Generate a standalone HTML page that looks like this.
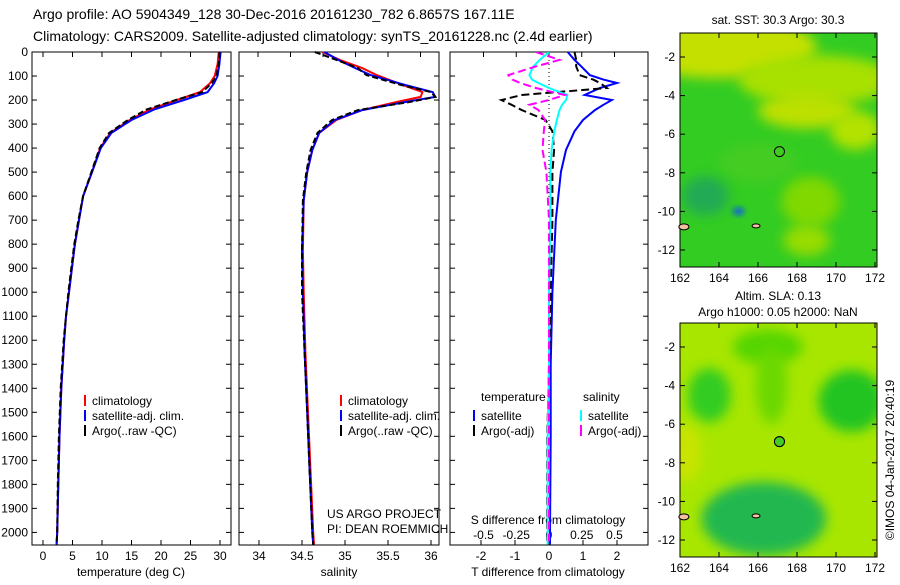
<!DOCTYPE html>
<html><head><meta charset="utf-8">
<style>
html,body{margin:0;padding:0;background:#fff;}
body{width:900px;height:580px;overflow:hidden;font-family:"Liberation Sans",sans-serif;}
svg text{font-family:"Liberation Sans",sans-serif;fill:#000;}
</style></head>
<body>
<svg id="fig" width="900" height="580" viewBox="0 0 900 580" xmlns="http://www.w3.org/2000/svg">
<defs>
<filter id="blur6" x="-50%" y="-50%" width="200%" height="200%"><feGaussianBlur stdDeviation="6"/></filter>
<filter id="blur3" x="-50%" y="-50%" width="200%" height="200%"><feGaussianBlur stdDeviation="3"/></filter>
<clipPath id="clipMap1"><rect x="680" y="33" width="197" height="234"/></clipPath>
<clipPath id="clipMap2"><rect x="680" y="323" width="197" height="234"/></clipPath>
<clipPath id="clipP3"><rect x="450" y="52" width="198" height="493"/></clipPath>
</defs>
<text x="33" y="19" font-size="14">Argo profile: AO 5904349_128 30-Dec-2016 20161230_782 6.8657S 167.11E</text>
<text x="33" y="41" font-size="14">Climatology: CARS2009. Satellite-adjusted climatology: synTS_20161228.nc (2.4d earlier)</text>
<g id="g-axes"></g>
<g id="g-maps"></g>
</svg>
<script>
// ---------- profile data ----------
const depthsT = [0,25,50,100,130,167,200,240,283,337,400,500,600,700,800,900,1000,1100,1200,1400,1600,1800,2000,2050];
const tempClim = [29.8,29.7,29.6,29.1,28.3,26.6,22.7,18.1,14.7,11.4,9.7,8.3,6.8,6.1,5.4,4.9,4.4,3.9,3.6,3.1,2.8,2.6,2.4,2.3];
const tempSat  = [30.1,30.0,29.9,29.6,29.0,27.9,23.9,18.8,15.0,11.6,9.8,8.3,6.8,6.1,5.4,4.9,4.4,3.9,3.6,3.1,2.8,2.6,2.4,2.3];
const tempArgo = [29.9,29.9,29.8,29.4,28.6,27.0,22.5,17.5,14.4,11.2,9.6,8.2,6.8,6.0,5.3,4.8,4.3,3.9,3.5,3.0,2.7,2.5,2.4,2.3];

const depthsS = [0,33,67,96,137,167,187,208,242,283,337,408,500,617,825,1000,1250,1500,1750,2000,2050];
const salClim = [34.74,34.94,35.2,35.37,35.67,35.9,35.88,35.6,35.2,34.9,34.7,34.62,34.56,34.52,34.51,34.52,34.54,34.57,34.60,34.63,34.64];
const salSat  = [34.76,34.92,35.12,35.3,35.7,36.02,36.05,35.7,35.2,34.88,34.7,34.62,34.56,34.52,34.50,34.51,34.53,34.56,34.59,34.62,34.63];
const salArgo = [34.65,34.9,35.15,35.25,35.65,36.0,36.05,35.75,35.15,34.85,34.68,34.6,34.55,34.51,34.50,34.50,34.53,34.56,34.59,34.62,34.63];

const depthsD = [0,33,60,96,115,129,150,179,200,220,242,283,330,408,500,700,1000,1300,1600,2000,2050];
const dTsat  = [0.55,0.75,0.95,1.2,1.6,2.0,1.5,1.05,1.85,1.6,1.35,1.0,0.75,0.5,0.35,0.2,0.1,0.05,0.05,0.03,0.03];
const dTargo = [0.75,0.8,0.8,0.9,1.3,1.5,1.7,-0.8,-1.4,-1.1,-0.8,-0.1,0.1,0.15,0.1,0.1,0.05,0.0,-0.05,-0.05,-0.05];
const dSsat  = [0.0,-0.07,-0.12,-0.15,-0.13,-0.08,0.0,0.14,0.13,0.1,0.08,0.06,0.04,0.02,0.01,0.01,0.0,0.0,-0.01,-0.01,-0.01];
const dSargo = [-0.1,0.08,-0.1,-0.31,-0.28,-0.22,-0.1,0.12,0.0,-0.15,-0.08,-0.03,-0.04,-0.05,-0.02,0.0,0.0,0.0,0.0,0.0,0.0];

const depthTicks = [0,100,200,300,400,500,600,700,800,900,1000,1100,1200,1300,1400,1500,1600,1700,1800,1900,2000];
const tempTicks = [0,5,10,15,20,25,30];
const salTicks = [34,34.5,35,35.5,36];
const salTickLabels = ["34","34.5","35","35.5","36"];
const dTTicks = [-2,-1,0,1,2];
const dSTicks = [-0.5,-0.25,0,0.25,0.5];
const dSTickLabels = ["-0.5","-0.25","0","0.25","0.5"];
const lonTicks = [162,164,166,168,170,172];
const latTicks = [-2,-4,-6,-8,-10,-12];

// ---------- helpers ----------
const NS = "http://www.w3.org/2000/svg";
const gA = document.getElementById('g-axes');
const gM = document.getElementById('g-maps');
function mk(tag, attrs, parent){
  const e = document.createElementNS(NS, tag);
  for (const k in attrs) e.setAttribute(k, attrs[k]);
  (parent||gA).appendChild(e);
  return e;
}
function txt(x,y,s,size,anchor,parent){
  const t = mk('text',{x:x,y:y,'font-size':size||12,'text-anchor':anchor||'start'},parent);
  t.textContent = s;
  return t;
}
const TOP=52, BOT=545;
const yD = d => TOP + d*0.2402;
const xT = v => 43 + v*5.9;
const xS = v => 259 + (v-34)*86;
const xDT = v => 549 + v*34;
const xDS = v => 549 + v*131;

function panel(x0,x1,name){
  const r = mk('rect',{x:x0,y:TOP,width:x1-x0,height:BOT-TOP,fill:'none',stroke:'#000','stroke-width':1});
  
  
  depthTicks.forEach(d=>{
    mk('line',{x1:x0,x2:x0+5,y1:yD(d),y2:yD(d),stroke:'#000'});
    mk('line',{x1:x1,x2:x1-5,y1:yD(d),y2:yD(d),stroke:'#000'});
  });
}
function series(xs,vals,depths,xf,color,dash,name,w){
  const pts = vals.map((v,i)=>xf(v).toFixed(1)+','+yD(depths[i]).toFixed(1)).join(' ');
  const a = {points:pts,fill:'none',stroke:color,'stroke-width':w||2};
  if (dash) a['stroke-dasharray']=dash;
  const p = mk('polyline',a);
  
  
  return p;
}
function legend(x,y,items,parent){
  items.forEach((it,i)=>{
    mk('line',{x1:x,x2:x,y1:y+i*15-6,y2:y+i*15+5,stroke:it[1],'stroke-width':2});
    const t = txt(x+7,y+i*15+4,it[0],12);
    
    
  });
}

// depth labels
depthTicks.forEach(d=>{
  const t = txt(28,yD(d)+4,String(d),12,'end');
  
  
});

// panel 1 temperature
panel(32,231,'temperature-panel');
tempTicks.forEach(v=>{
  mk('line',{x1:xT(v),x2:xT(v),y1:BOT,y2:BOT-5,stroke:'#000'});
  mk('line',{x1:xT(v),x2:xT(v),y1:TOP,y2:TOP+5,stroke:'#000'});
  txt(xT(v),560,String(v),12,'middle');
});
txt(131,576,'temperature (deg C)',12,'middle');
series(0,tempClim,depthsT,xT,'#f00',null,'temp-climatology-line');
series(0,tempSat,depthsT,xT,'#00f',null,'temp-satellite-line');
series(0,tempArgo,depthsT,xT,'#000','6,3','temp-argo-line');
legend(85,401,[['climatology','#f00'],['satellite-adj. clim.','#00f'],['Argo(..raw -QC)','#000']]);

// panel 2 salinity
panel(239,439,'salinity-panel');
salTicks.forEach((v,i)=>{
  mk('line',{x1:xS(v),x2:xS(v),y1:BOT,y2:BOT-5,stroke:'#000'});
  txt(xS(v),560,salTickLabels[i],12,'middle');
});
[258,290.5,323,355.5,388,420.5].forEach(x=>mk('line',{x1:x,x2:x,y1:TOP,y2:TOP+5,stroke:'#000'}));
txt(339,576,'salinity',12,'middle');
series(0,salClim,depthsS,xS,'#f00',null,'sal-climatology-line');
series(0,salSat,depthsS,xS,'#00f',null,'sal-satellite-line');
series(0,salArgo,depthsS,xS,'#000','6,3','sal-argo-line');
legend(341,401,[['climatology','#f00'],['satellite-adj. clim.','#00f'],['Argo(..raw -QC)','#000']]);
txt(327,518,'US ARGO PROJECT',12);
txt(327,533,'PI: DEAN ROEMMICH',12);

// panel 3 differences
panel(450,648,'difference-panel');
mk('line',{x1:549,x2:549,y1:TOP,y2:200,stroke:'#000','stroke-dasharray':'1,3'});
dTTicks.forEach(v=>{
  mk('line',{x1:xDT(v),x2:xDT(v),y1:BOT,y2:BOT-5,stroke:'#000'});
  txt(xDT(v),560,String(v),12,'middle');
});
dSTicks.forEach((v,i)=>{
  mk('line',{x1:xDS(v),x2:xDS(v),y1:TOP,y2:TOP+5,stroke:'#000'});
  txt(xDS(v),539,dSTickLabels[i],12,'middle');
});
txt(548,524,'S difference from climatology',12,'middle');
txt(548,576,'T difference from climatology',12,'middle');
const g3 = mk('g',{'clip-path':'url(#clipP3)'});
function series3(vals,xf,color,dash,name){
  const pts = vals.map((v,i)=>xf(v).toFixed(1)+','+yD(depthsD[i]).toFixed(1)).join(' ');
  const a={points:pts,fill:'none',stroke:color,'stroke-width':2};
  if(dash)a['stroke-dasharray']=dash;
  const p = mk('polyline',a,g3);
  
  
}
series3(dTsat,xDT,'#00f',null,'tdiff-satellite-line');
series3(dTargo,xDT,'#000','8,4','tdiff-argo-line');
series3(dSsat,xDS,'#0ff',null,'sdiff-satellite-line');
series3(dSargo,xDS,'#f0f','8,4','sdiff-argo-line');
txt(481,401,'temperature',12);
txt(583,401,'salinity',12);
legend(474,416,[['satellite','#00f'],['Argo(-adj)','#000']]);
legend(581,416,[['satellite','#0ff'],['Argo(-adj)','#f0f']]);

// ---------- maps ----------
const mapX0=680, mapX1=877;
const lonX = lon => 680 + (lon-162)*19.5;
function map(y0,lat2y,name,base,blobs){
  const clip = mk('g',{'clip-path':'url('+ (y0<300?'#clipMap1':'#clipMap2') +')'},gM);
  mk('rect',{x:mapX0,y:y0,width:197,height:234,fill:base},clip);
  blobs.forEach(b=>{
    mk('ellipse',{cx:lonX(b[0]),cy:lat2y(b[1]),rx:b[2]*19.5,ry:b[3]*19.3,fill:b[4],filter:'url(#'+(b[5]||'blur6')+')'},clip);
  });
  const r = mk('rect',{x:mapX0,y:y0,width:197,height:234,fill:'none',stroke:'#000'},gM);
  
  
  lonTicks.forEach(v=>{
    mk('line',{x1:lonX(v),x2:lonX(v),y1:y0+234,y2:y0+229,stroke:'#000'},gM);
    mk('line',{x1:lonX(v),x2:lonX(v),y1:y0,y2:y0+5,stroke:'#000'},gM);
    txt(lonX(v),y0+249,String(v),12,'middle',gM);
  });
  latTicks.forEach(v=>{
    mk('line',{x1:mapX0,x2:mapX0+5,y1:lat2y(v),y2:lat2y(v),stroke:'#000'},gM);
    mk('line',{x1:mapX1,x2:mapX1-5,y1:lat2y(v),y2:lat2y(v),stroke:'#000'},gM);
    txt(675,lat2y(v)+4,String(v),12,'end',gM);
  });
  mk('ellipse',{cx:lonX(162.2),cy:lat2y(-10.8),rx:5,ry:3,fill:'#f4c0a0',stroke:'#000'},gM);
  mk('ellipse',{cx:lonX(165.9),cy:lat2y(-10.75),rx:4,ry:2,fill:'#f4c0a0',stroke:'#000'},gM);
  const c = mk('circle',{cx:lonX(167.1),cy:lat2y(-6.9),r:5,fill:'none',stroke:'#000'},gM);
  
  
}
const lat1 = lat => 57 + (-2-lat)*19.3;
const lat2 = lat => 347 + (-2-lat)*19.3;
map(33,lat1,'sst-map','#33cc22',[
  [164,-1.5,5,1.6,'#c4e000'],
  [169,-3.2,4,1.3,'#a8e000'],
  [168.5,-4.8,2.5,0.9,'#bce000'],
  [171,-5.8,1.3,1,'#b4e200'],
  [166,-7.5,2,1,'#44cc22'],
  [163.3,-9.2,1.2,1,'#22aa55'],
  [168.7,-9.5,1.5,1.3,'#80d800'],
  [168.5,-11.5,1.2,0.8,'#98dc00'],
  [165,-10,0.3,0.2,'#1060e0','blur3']
]);
txt(778,24,'sat. SST: 30.3 Argo: 30.3',12,'middle',gM);
map(323,lat2,'sla-map','#a8e600',[
  [166.5,-2,1.8,0.9,'#55d500'],
  [163.5,-4.5,1.1,1.4,'#33cc22'],
  [170.8,-4.8,1.7,1.6,'#22c422'],
  [166.7,-4,0.8,2,'#6ad800'],
  [166.3,-10.9,3.2,1.9,'#22b850'],
  [162.3,-7.5,0.8,1.5,'#c8e400']
]);
txt(778,300,'Altim. SLA: 0.13',12,'middle',gM);
txt(778,316,'Argo h1000: 0.05 h2000: NaN',12,'middle',gM);
mk('circle',{cx:lonX(167.1),cy:lat2(-6.9),r:4.5,fill:'#44cc22'},gM);
mk('circle',{cx:lonX(167.1),cy:lat2(-6.9),r:5,fill:'none',stroke:'#000'},gM);
const cr = txt(0,0,'©IMOS 04-Jan-2017 20:40:19',12,'middle',gM);
cr.setAttribute('transform','translate(894,460) rotate(-90)');


</script>
</body></html>
